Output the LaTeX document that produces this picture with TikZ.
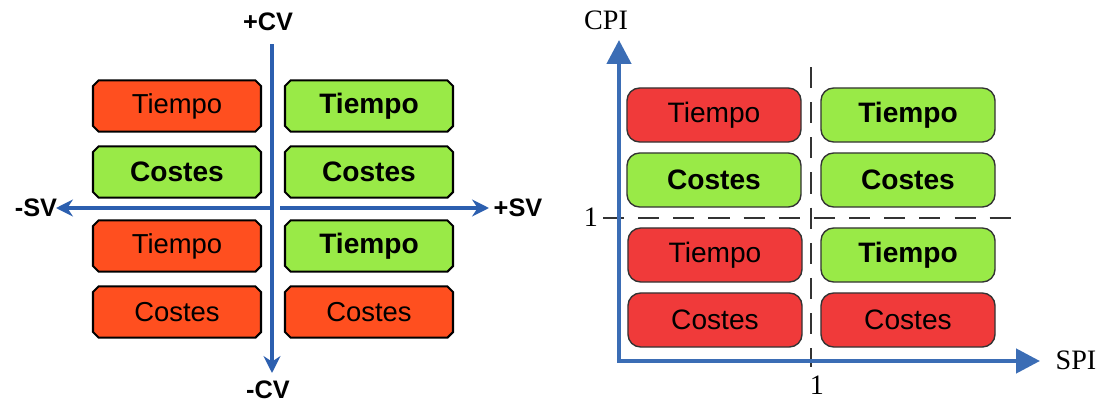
\documentclass[tikz,border=0pt]{standalone}
\usepackage{fontspec}
\setmainfont{Liberation Serif}
\setsansfont{Liberation Sans}
\usetikzlibrary{arrows.meta,shapes.misc}
\definecolor{varred}{HTML}{FF4F1F}
\definecolor{idxred}{HTML}{F03A3A}
\definecolor{okgreen}{HTML}{99EA47}
\definecolor{varblue}{HTML}{2C5FAF}
\definecolor{idxblue}{HTML}{3B6DB5}
\definecolor{rule}{HTML}{333333}

\begin{document}
\begin{tikzpicture}[
  x=0.025cm,
  y=-0.025cm,
  every node/.style={inner sep=0pt},
  varbox/.style={chamfered rectangle, chamfered rectangle xsep=2pt,
    chamfered rectangle ysep=2pt, draw=black, line width=1.5pt,
    minimum width=4.2cm, minimum height=1.28cm,
    font=\sffamily\fontsize{19.5}{20}\selectfont},
  idxbox/.style={rectangle, rounded corners=9pt, draw=rule, line width=1pt,
    minimum width=4.35cm, minimum height=1.35cm,
    font=\sffamily\fontsize{20}{21}\selectfont},
  bad/.style={fill=#1},
  good/.style={fill=okgreen, font=\sffamily\bfseries\fontsize{20}{21}\selectfont},
  varaxis/.style={varblue, line width=2.4pt, -{Stealth[length=12pt, width=12pt]}},
  idxaxis/.style={idxblue, line width=3.2pt, -{Triangle[length=17pt, width=17pt]}},
  split/.style={rule, line width=1pt, dash pattern=on 15pt off 10pt},
  varlab/.style={font=\sffamily\bfseries\fontsize{18}{19}\selectfont},
  idxlab/.style={font=\fontsize{20}{21}\selectfont}
]
  \useasboundingbox (0,0) rectangle (1100,402);

  % ---- variances: SV against CV ----------------------------------------
  \node[varbox, bad=varred]  (vTa) at (177,106) {Tiempo};
  \node[varbox, good]        (vCa) at (177,172) {Costes};
  \node[varbox, bad=varred]  (vTb) at (177,246) {Tiempo};
  \node[varbox, bad=varred]  (vCb) at (177,312) {Costes};
  \node[varbox, good]        (vTc) at (369,106) {Tiempo};
  \node[varbox, good]        (vCc) at (369,172) {Costes};
  \node[varbox, good]        (vTd) at (369,246) {Tiempo};
  \node[varbox, bad=varred]  (vCd) at (369,312) {Costes};

  \coordinate (cvtop) at (272,44);
  \coordinate (cvbot) at (272,373);
  \coordinate (svmid) at (272,208);
  \coordinate (svgap) at (280,208);
  \coordinate (svleft) at (56,208);
  \coordinate (svright) at (489,208);
  \draw[varaxis, {Stealth[length=12pt, width=12pt]}-] (cvbot) -- (cvtop);
  \draw[varaxis] (svmid) -- (svleft);
  \draw[varaxis] (svgap) -- (svright);
  \node[varlab] (pcv) at (268,22)  {+CV};
  \node[varlab] (mcv) at (268,390) {-CV};
  \node[varlab] (msv) at (36,208)  {-SV};
  \node[varlab] (psv) at (518,208) {+SV};

  % ---- indices: SPI against CPI ----------------------------------------
  \draw[split] (603,218) -- (1013,218);
  \draw[split] (811,67) -- (811,367);

  \node[idxbox, bad=idxred]  (iTa) at (714,115) {Tiempo};
  \node[idxbox, good]        (iCa) at (714,180) {Costes};
  \node[idxbox, bad=idxred]  (iTb) at (715,255) {Tiempo};
  \node[idxbox, bad=idxred]  (iCb) at (715,320) {Costes};
  \node[idxbox, good]        (iTc) at (908,115) {Tiempo};
  \node[idxbox, good]        (iCc) at (908,180) {Costes};
  \node[idxbox, good]        (iTd) at (908,255) {Tiempo};
  \node[idxbox, bad=idxred]  (iCd) at (908,320) {Costes};

  \coordinate (origin) at (619,361);
  \coordinate (cpitip) at (619,40);
  \coordinate (spitip) at (1040,361);
  \draw[idxaxis] (origin) -- (cpitip);
  \draw[idxaxis] ([xshift=-1.6pt]origin) -- (spitip);
  \node[idxlab] (cpi)  at (606,20)  {CPI};
  \node[idxlab] (spi)  at (1076,360) {SPI};
  \node[idxlab] (onec) at (591,217) {1};
  \node[idxlab] (ones) at (817,385) {1};
\end{tikzpicture}
\end{document}
